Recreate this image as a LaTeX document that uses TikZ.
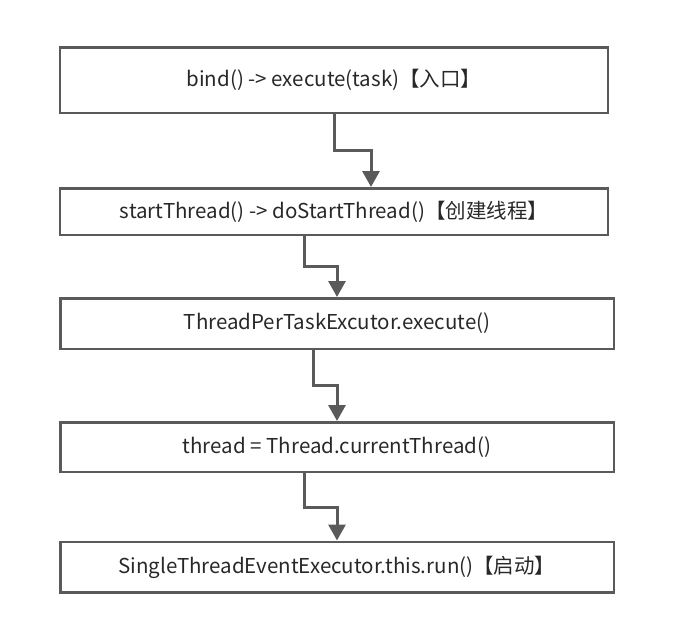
\documentclass[tikz,border=0pt]{standalone}
\usepackage{fontspec}
\setmainfont{Noto Sans CJK SC}
\usetikzlibrary{positioning,arrows.meta}
\definecolor{linegray}{RGB}{90,90,90}
\definecolor{textgray}{RGB}{40,40,40}

\begin{document}
\begin{tikzpicture}[x=1pt,y=-1pt,>={Triangle[width=17pt,length=16pt]},
    box/.style={draw=linegray,line width=2.5pt,inner sep=0pt,text=textgray,
      font=\fontsize{20.5pt}{24pt}\selectfont},
    flow/.style={->,draw=linegray,line width=3pt}]
  \useasboundingbox (0,0) rectangle (689,635);
  \node[box,minimum width=548pt,minimum height=65.5pt] (entry) at (334,80)
    {bind() -> execute(task)【入口】};
  \node[box,minimum width=548pt,minimum height=46.5pt] (start) at (334,211.5)
    {startThread() -> doStartThread()【创建线程】};
  \node[box,minimum width=553.5pt,minimum height=50.5pt] (perTask) at (337,323.5)
    {ThreadPerTaskExcutor.execute()};
  \node[box,minimum width=553.5pt,minimum height=49.5pt] (current) at (337,447)
    {thread = Thread.currentThread()};
  \node[box,minimum width=553.5pt,minimum height=50.5pt] (run) at (337,567)
    {SingleThreadEventExecutor.this.run()【启动】};
  \draw[flow] (entry.south) -- ++(0,36) -| ([xshift=37pt]start.north);
  \draw[flow] ([xshift=-30pt]start.south) -- ++(0,30) -| (perTask.north);
  \draw[flow] ([xshift=-23.5pt]perTask.south) -- ++(0,35) -| (current.north);
  \draw[flow] ([xshift=-33pt]current.south) -- ++(0,34) -| (run.north);
\end{tikzpicture}
\end{document}
